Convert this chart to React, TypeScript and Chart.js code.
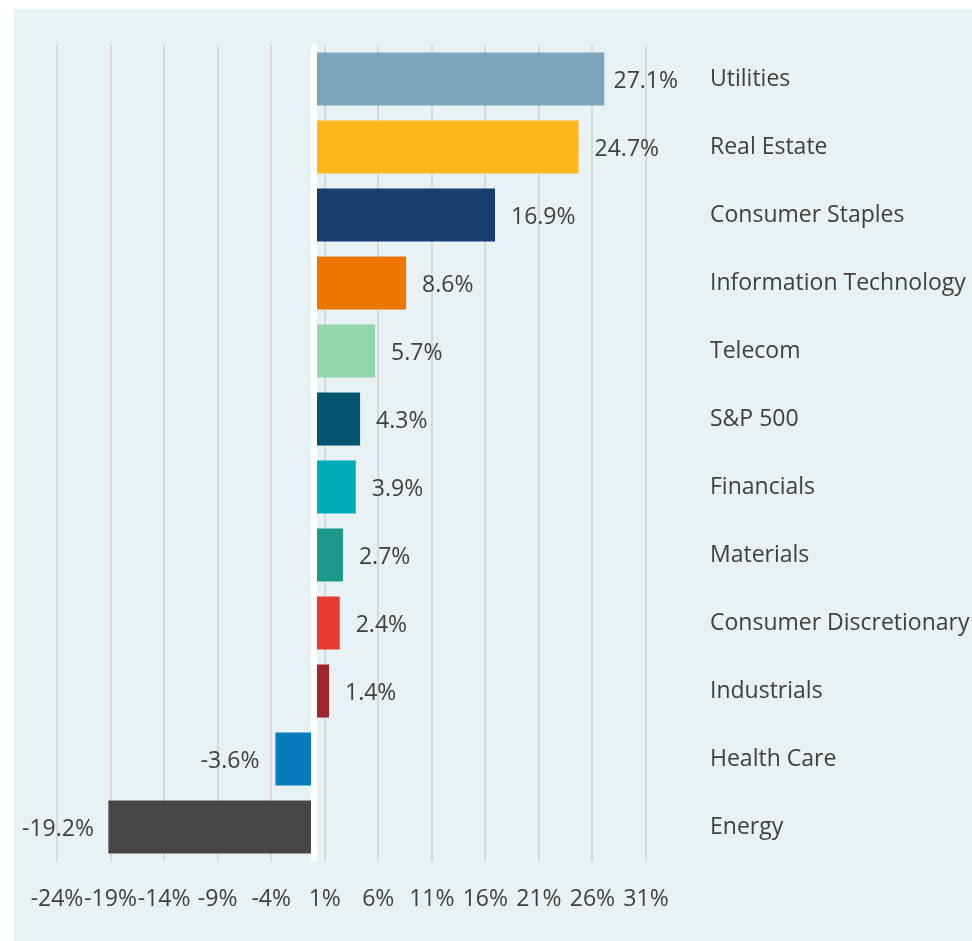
import React, { useEffect, useRef } from "react";
import { Chart, registerables } from "chart.js";

Chart.register(...registerables);

const categories = [
  "Utilities",
  "Real Estate",
  "Consumer Staples",
  "Information Technology",
  "Telecom",
  "S&P 500",
  "Financials",
  "Materials",
  "Consumer Discretionary",
  "Industrials",
  "Health Care",
  "Energy",
];

const returns = [27.1, 24.7, 16.9, 8.6, 5.7, 4.3, 3.9, 2.7, 2.4, 1.4, -3.6, -19.2];

const barColors = [
  "#7ea6bb",
  "#ffb81c",
  "#173e6f",
  "#ee7600",
  "#93d5ad",
  "#02546f",
  "#00acba",
  "#1b9889",
  "#e83a2f",
  "#a0252d",
  "#087cbb",
  "#464646",
];

const xTicks = [-24, -19, -14, -9, -4, 1, 6, 11, 16, 21, 26, 31];

const FONT = "'Open Sans'";
const FONT_SIZE = 23;
const TEXT = "#404040";

const bgPlugin = {
  id: "bgPanel",
  beforeDraw(chart: any) {
    const ctx = chart.ctx;
    ctx.save();
    ctx.fillStyle = "#e8f1f4";
    ctx.fillRect(14, 9, chart.width - 14, chart.height - 9);
    ctx.restore();
  },
};

const overlayPlugin = {
  id: "overlay",
  afterDatasetsDraw(chart: any) {
    const ctx = chart.ctx;
    const xs = chart.scales.x;
    const area = chart.chartArea;
    const x0 = xs.getPixelForValue(0);
    ctx.save();
    ctx.fillStyle = "#ffffff";
    ctx.fillRect(x0 - 3, area.top, 6, area.bottom - area.top);

    ctx.font = `${FONT_SIZE}px ${FONT}`;
    ctx.fillStyle = TEXT;
    ctx.textBaseline = "middle";
    ctx.textAlign = "left";
    const meta = chart.getDatasetMeta(0);
    meta.data.forEach((bar: any, i: number) => {
      const v = returns[i];
      const txt = v.toFixed(1) + "%";
      const w = ctx.measureText(txt).width;
      let left: number;
      if (v >= 0) {
        left = bar.x + 16;
        if (left + w > 678) left = 678 - w;
      } else {
        left = bar.x - 16 - w;
        if (left < 22) left = 22;
      }
      ctx.fillText(txt, left, bar.y + 2);
    });
    ctx.restore();
  },
};

export default function App() {
  const ref = useRef<HTMLCanvasElement | null>(null);

  useEffect(() => {
    if (!ref.current) return;
    const chart = new Chart(ref.current, {
      type: "bar",
      data: {
        labels: categories,
        datasets: [
          {
            data: returns,
            backgroundColor: barColors,
            borderWidth: 0,
            barPercentage: 0.78,
            categoryPercentage: 1.0,
          },
        ],
      },
      options: {
        indexAxis: "y",
        responsive: false,
        animation: false,
        layout: { padding: { left: 57, top: 45, right: 0, bottom: 0 } },
        plugins: {
          legend: { display: false },
          tooltip: { enabled: false },
        },
        scales: {
          x: {
            type: "linear",
            min: -24,
            max: 31,
            afterBuildTicks: (scale: any) => {
              scale.ticks = xTicks.map((v) => ({ value: v }));
            },
            afterFit: (scale: any) => {
              scale.height = 80;
            },
            ticks: {
              callback: (v: any) => `${v}%`,
              font: { family: FONT, size: FONT_SIZE },
              color: TEXT,
              padding: 25,
              maxRotation: 0,
              autoSkip: false,
            },
            grid: { color: "#d9d9d9", lineWidth: 2, drawTicks: false },
            border: { display: false },
          },
          y: {
            position: "right",
            afterFit: (scale: any) => {
              scale.width = 326;
              scale.paddingTop = 0;
              scale.paddingBottom = 0;
            },
            ticks: {
              font: { family: FONT, size: FONT_SIZE },
              color: TEXT,
              padding: 64,
              crossAlign: "near",
              autoSkip: false,
            },
            grid: { display: false, drawTicks: false },
            border: { display: false },
          },
        },
      },
      plugins: [bgPlugin, overlayPlugin],
    });
    return () => chart.destroy();
  }, []);

  return (
    <div style={{ position: "absolute", left: 0, top: 0, width: 972, height: 941 }}>
      <canvas ref={ref} width={972} height={941} />
    </div>
  );
}
